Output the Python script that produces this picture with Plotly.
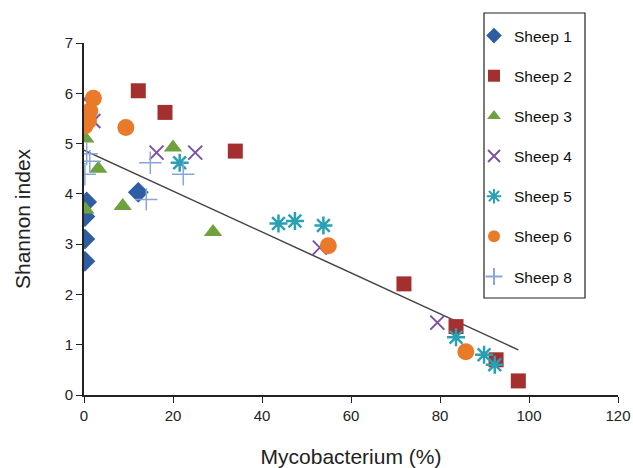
import numpy as np
import plotly.graph_objects as go

names = ["Sheep 1", "Sheep 2", "Sheep 3", "Sheep 4", "Sheep 5", "Sheep 6", "Sheep 8"]

s1_x = [0.2, 0.2, 0.2, 0.6, 12.2]
s1_y = [2.66, 3.10, 3.55, 3.84, 4.03]
s2_x = [12.2, 18.2, 34.0, 71.9, 83.6, 92.6, 97.6]
s2_y = [6.05, 5.62, 4.85, 2.21, 1.36, 0.70, 0.28]
s3_x = [0.3, 3.2, 0.3, 8.7, 20.0, 29.0]
s3_y = [5.10, 4.50, 3.69, 3.76, 4.92, 3.24]
s4_x = [0.2, 2.1, 16.3, 25.0, 53.0, 79.4]
s4_y = [5.88, 5.45, 4.82, 4.82, 2.93, 1.44]
s5_x = [21.5, 43.7, 47.4, 53.8, 83.6, 89.9, 92.3]
s5_y = [4.62, 3.41, 3.46, 3.37, 1.15, 0.80, 0.60]
s6_x = [2.1, 1.3, 1.0, 0.2, 0.4, 9.4, 54.9, 85.8]
s6_y = [5.90, 5.65, 5.45, 5.35, 5.55, 5.32, 2.97, 0.86]
s8_x = [0.6, 1.3, 0.2, 14.9, 22.3, 14.0]
s8_y = [4.80, 4.65, 4.39, 4.62, 4.39, 3.89]

# linear trend line as drawn in the reference
trend_x = [0.0, 97.6]
trend_intercept = 4.87
trend_slope = -0.0407

xs = [s1_x, s2_x, s3_x, s4_x, s5_x, s6_x, s8_x]
ys = [s1_y, s2_y, s3_y, s4_y, s5_y, s6_y, s8_y]

colors = ["#2F5DA3", "#A3302E", "#6FA23F", "#7A52A6", "#2BA0B3", "#E97A2A", "#8AA5D8"]
symbols = ["diamond", "square", "triangle-up", "x-thin-open", "asterisk-open", "circle", "cross-thin-open"]
sizes = [16, 15, 16, 14, 15, 17, 16]
lwidths = [0, 0, 0, 2, 2.5, 0, 1.5]

fig = go.Figure()

tx = np.array(trend_x)
fig.add_trace(go.Scatter(x=tx, y=trend_intercept + trend_slope * tx, mode="lines",
                         line=dict(color="#444444", width=1.5), showlegend=False, hoverinfo="skip"))

for i, n in enumerate(names):
    fig.add_trace(go.Scatter(
        x=xs[i], y=ys[i], mode="markers", name=n, legendgroup=n,
        marker=dict(symbol=symbols[i], size=sizes[i], color=colors[i],
                    line=dict(color=colors[i], width=lwidths[i]))))

W, H = 633, 468
L, T, R, B = 84, 43, 15, 73
pw, ph = W - L - R, H - T - B


def px(xp):
    return (xp - L) / pw


def py(yp):
    return 1 - (yp - T) / ph


fig.update_layout(
    width=W, height=H,
    margin=dict(l=L, r=R, t=T, b=B),
    paper_bgcolor="white", plot_bgcolor="white",
    font=dict(family="Liberation Sans, Arial, sans-serif", color="#222222", size=15),
    xaxis=dict(range=[0, 120], tickvals=[0, 20, 40, 60, 80, 100, 120], automargin=False,
               ticklabeloverflow="allow",
               showgrid=False, zeroline=False, showline=True, linecolor="#222222", linewidth=2,
               ticks="outside", ticklen=6, tickcolor="#222222",
               title=dict(text="Mycobacterium (%)", font=dict(size=21), standoff=26)),
    yaxis=dict(range=[0, 7], tickvals=[0, 1, 2, 3, 4, 5, 6, 7], automargin=False,
               showgrid=False, zeroline=False, showline=True, linecolor="#222222", linewidth=2,
               ticks="outside", ticklen=6, tickcolor="#222222",
               title=dict(text="Shannon index", font=dict(size=21), standoff=28)),
    legend=dict(x=px(474), y=py(19), xanchor="left", yanchor="top",
                borderwidth=0, maxheight=320,
                font=dict(size=15.5, color="#111111"), tracegroupgap=17, traceorder="grouped",
                itemsizing="constant", bgcolor="rgba(0,0,0,0)"),
    shapes=[dict(type="rect", xref="paper", yref="paper",
                 x0=px(484), x1=px(585), y0=py(298), y1=py(13),
                 line=dict(color="#222222", width=1.2), fillcolor="rgba(0,0,0,0)", layer="above")],
)

fig.write_html("out.html", config={"displayModeBar": False},
               post_script="document.body.style.margin='0';document.body.style.overflow='hidden';")
